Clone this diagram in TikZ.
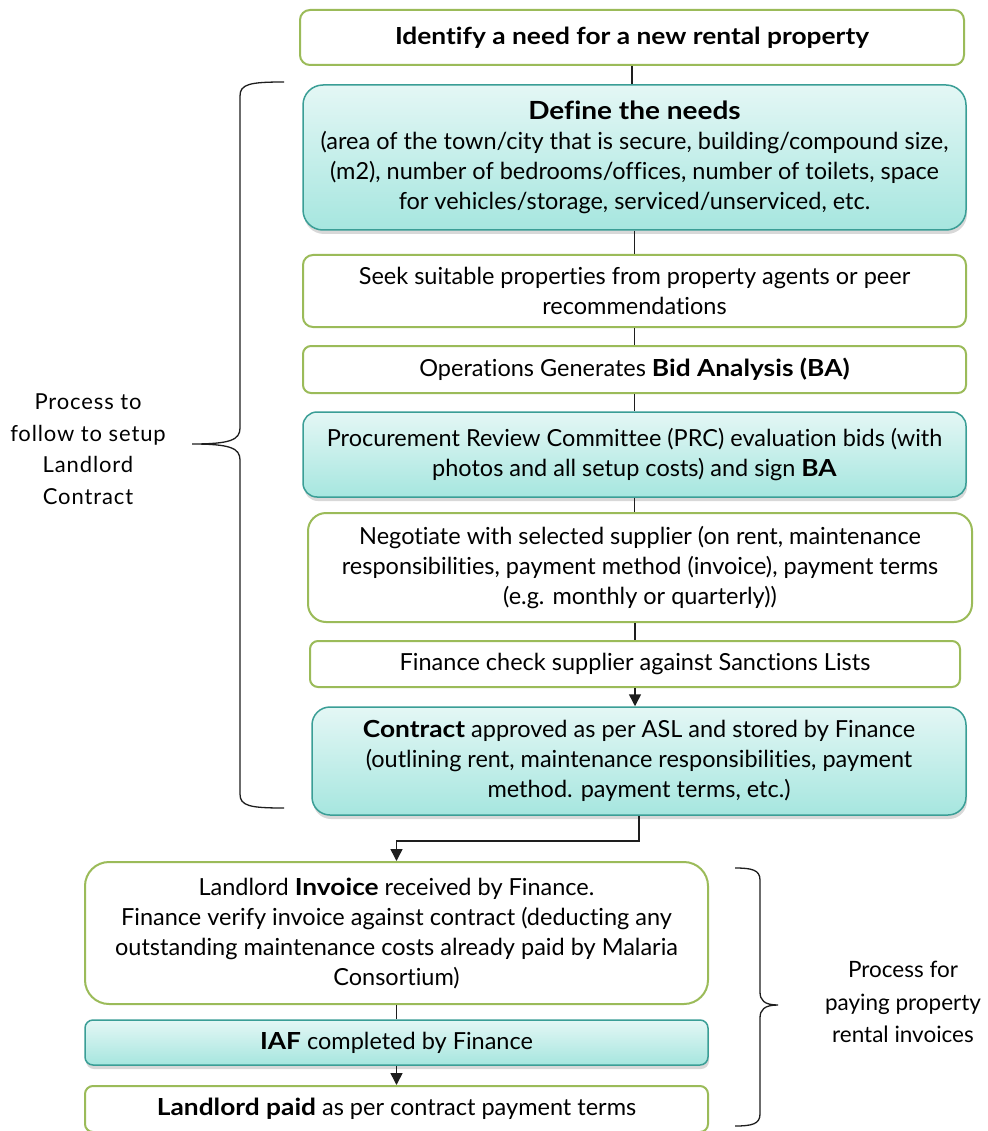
\documentclass[tikz,border=0pt]{standalone}
\usepackage{fontspec}
\setmainfont{Lato}[Ligatures=NoCommon, BoldFeatures={FakeStretch=1.12}]
\usetikzlibrary{shadows,arrows.meta}
\definecolor{boxgreen}{HTML}{9BBB59}
\definecolor{tealedge}{HTML}{3A9E96}
\definecolor{tealtop}{HTML}{E4F7F5}
\definecolor{tealbot}{HTML}{A6E6DF}
\definecolor{linegray}{HTML}{1E1E1E}
\begin{document}
\begin{tikzpicture}[x=1pt,y=-1pt,
  txt/.style={font=\fontsize{23.5}{30}\selectfont, align=center},
  plainbox/.style={txt, draw=boxgreen, line width=2pt, fill=white,
    rounded corners=10pt, inner sep=0pt},
  tealbox/.style={txt, draw=tealedge, line width=1.5pt, top color=tealtop,
    bottom color=tealbot, rounded corners=14pt, inner sep=0pt,
    drop shadow={opacity=0.3, shadow xshift=1pt, shadow yshift=-4pt}},
  conn/.style={draw=linegray, line width=1.5pt},
  arr/.style={conn, -{Triangle[length=12pt,width=12pt]}},
  brace/.style={draw=linegray, line width=1.3pt},
  side/.style={font=\fontsize{22}{31.5}\selectfont\addfontfeatures{LetterSpace=4}, align=center}]
\clip (0,0) rectangle (987,1131);
\fill[white] (0,0) rectangle (987,1131);

% process steps
\node[plainbox, minimum width=664pt, minimum height=55pt] (b1) at (632,37.5)
  {\textbf{Identify a need for a new rental property}};
\node[tealbox, minimum width=663pt, minimum height=145pt, rounded corners=20pt] (b2) at (634.5,157.5)
  {\textbf{\fontsize{25}{30}\selectfont Define the needs}\\
   (area of the town/city that is secure, building/compound size,\\
   (m2), number of bedrooms/offices, number of toilets, space\\
   for vehicles/storage, serviced/unserviced, etc.};
\node[plainbox, minimum width=663pt, minimum height=72pt] (b3) at (634.5,291)
  {Seek suitable properties from property agents or peer\\recommendations};
\node[plainbox, minimum width=663pt, minimum height=47pt, rounded corners=8pt] (b4) at (634.5,369.5)
  {Operations Generates \textbf{Bid Analysis (BA)}};
\node[tealbox, minimum width=663pt, minimum height=85pt] (b5) at (634.5,454.5)
  {Procurement Review Committee (PRC) evaluation bids (with\\
   photos and all setup costs) and sign \textbf{BA}};
\node[plainbox, minimum width=664pt, minimum height=109pt, rounded corners=18pt] (b6) at (640,567.5)
  {Negotiate with selected supplier (on rent, maintenance\\
   responsibilities, payment method (invoice), payment terms\\
   (e.g. monthly or quarterly))};
\node[plainbox, minimum width=650pt, minimum height=46pt, rounded corners=8pt] (b7) at (635,664)
  {Finance check supplier against Sanctions Lists};
\node[tealbox, minimum width=654pt, minimum height=108pt, rounded corners=18pt] (b8) at (639,761)
  {\textbf{Contract} approved as per ASL and stored by Finance\\
   (outlining rent, maintenance responsibilities, payment\\
   method. payment terms, etc.)};
\node[plainbox, minimum width=623pt, minimum height=142pt, rounded corners=24pt] (b9) at (396.5,933)
  {Landlord \textbf{Invoice} received by Finance.\\
   Finance verify invoice against contract (deducting any\\
   outstanding maintenance costs already paid by Malaria\\
   Consortium)};
\node[tealbox, minimum width=623pt, minimum height=45pt, rounded corners=8pt] (b10) at (396.5,1042.5)
  {\textbf{IAF} completed by Finance};
\node[plainbox, minimum width=623pt, minimum height=46pt, rounded corners=8pt] (b11) at (396.5,1109)
  {\textbf{Landlord paid} as per contract payment terms};

% connectors
\draw[conn] (b1.south) -- (b1.south |- b2.north);
\draw[conn] (b2.south) -- (b2.south |- b3.north);
\draw[conn] (b3.south) -- (b3.south |- b4.north);
\draw[conn] (b4.south) -- (b4.south |- b5.north);
\draw[conn] (b5.south) -- (b5.south |- b6.north);
\draw[conn] (b6.south -| b7.north) -- (b7.north);
\draw[arr] (b7.south) -- (b7.south |- b8.north);
\draw[arr] (b8.south) -- ++(0,25) -| (b9.north);
\draw[conn] (b9.south) -- (b10.north);
\draw[arr] (b10.south) -- (b11.north);

% brace for the contract set-up steps
\draw[brace] (284,82) .. controls (250,82) and (240,84) .. (240,96)
  -- (240,428) .. controls (240,440) and (230,444) .. (192,444)
  .. controls (230,444) and (240,448) .. (240,460)
  -- (240,794) .. controls (240,806) and (250,808) .. (284,808);
\node[side] (lab1) at (88,449) {Process to\\follow to setup\\Landlord\\Contract};

% brace for the invoice payment steps
\draw[brace] (735,868) .. controls (752,868) and (760,870) .. (760,880)
  -- (760,992) .. controls (760,1000) and (764,1005) .. (778,1005)
  .. controls (764,1005) and (760,1010) .. (760,1018)
  -- (760,1114) .. controls (760,1124) and (752,1126) .. (735,1126);
\node[font=\fontsize{22.5}{32.5}\selectfont, align=center] (lab2) at (903,1002) {Process for\\paying property\\rental invoices};
\end{tikzpicture}
\end{document}
